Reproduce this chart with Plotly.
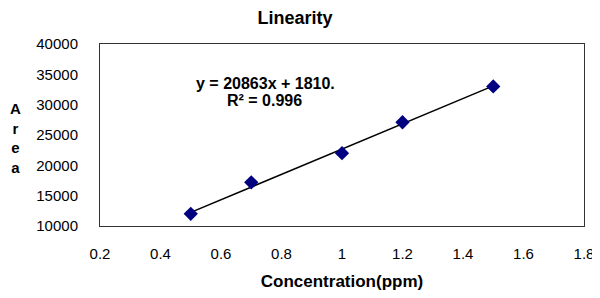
import plotly.graph_objects as go

concentration = [0.5, 0.7, 1.0, 1.2, 1.5]
area = [12000, 17200, 22000, 27100, 33000]
slope = 20863
intercept = 1810
equation_text = "y = 20863x + 1810."
r2_text = "R² = 0.996"

FONT = "Liberation Sans, Arial, sans-serif"

# page body has an 8px margin, so the figure sits at (8, 8) in the window
W, H = 592, 290
PL, PT, PR, PB = 92, 36, 576, 218  # plot area in figure pixels
pw, ph = PR - PL, PB - PT

x_line = [min(concentration), max(concentration)]
y_line = [slope * v + intercept for v in x_line]

fig = go.Figure()
fig.add_trace(go.Scatter(x=x_line, y=y_line, mode="lines",
                         line=dict(color="black", width=1.5),
                         hoverinfo="skip", showlegend=False))
fig.add_trace(go.Scatter(x=concentration, y=area, mode="markers",
                         marker=dict(symbol="diamond", size=11, color="#000080",
                                     line=dict(width=0)),
                         showlegend=False))

fig.update_layout(
    width=W, height=H,
    margin=dict(l=PL, r=W - PR, t=PT, b=H - PB, autoexpand=False),
    paper_bgcolor="white", plot_bgcolor="white",
    font=dict(family=FONT, color="black"),
    title=dict(text="<b>Linearity</b>", x=287 / W, xanchor="center",
               y=1 - 3 / H, yanchor="top", pad=dict(t=0, b=0),
               font=dict(size=18, family=FONT, color="black")),
    xaxis=dict(range=[0.2, 1.8], dtick=0.2, tick0=0.2, showgrid=False,
               zeroline=False, showline=True, linecolor="#333", linewidth=1,
               mirror=True, ticks="", ticklabelstandoff=14, automargin=False,
               tickfont=dict(size=15, family=FONT, color="black"),
               title=dict(text="<b>Concentration(ppm)</b>", standoff=14,
                          font=dict(size=17, family=FONT, color="black"))),
    yaxis=dict(range=[10000, 40000], dtick=5000, tick0=10000, showgrid=False,
               zeroline=False, showline=True, linecolor="#333", linewidth=1,
               mirror=True, ticks="", ticklabelstandoff=18, automargin=False,
               tickformat="d",
               tickfont=dict(size=15, family=FONT, color="black")),
)

fig.add_annotation(text="<b>A<br>r<br>e<br>a</b>", xref="paper", yref="paper",
                   x=-85 / pw, xanchor="center", y=(218 - 130) / ph, yanchor="middle",
                   showarrow=False, align="center",
                   font=dict(size=15, family=FONT, color="black"))
fig.add_annotation(text="<b>" + equation_text + "</b>", xref="paper", yref="paper",
                   x=165 / pw, xanchor="center", y=143 / ph, yanchor="middle",
                   showarrow=False, font=dict(size=16, family=FONT, color="black"))
fig.add_annotation(text="<b>" + r2_text + "</b>", xref="paper", yref="paper",
                   x=164 / pw, xanchor="center", y=126 / ph, yanchor="middle",
                   showarrow=False, font=dict(size=16, family=FONT, color="black"))

fig.write_html("out.html")
